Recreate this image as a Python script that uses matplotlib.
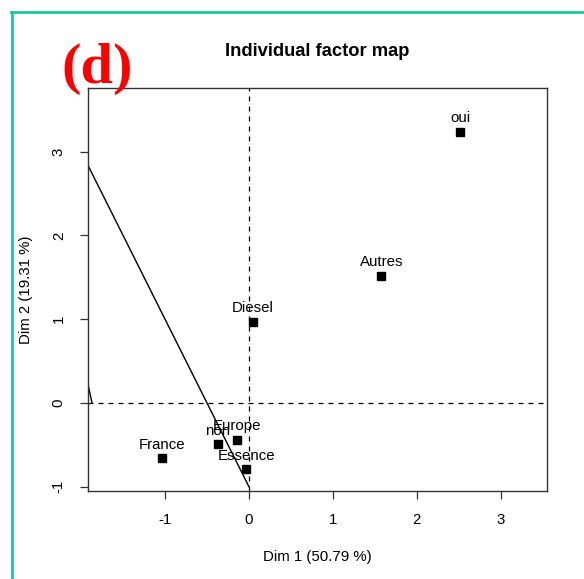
import matplotlib
matplotlib.use("Agg")
import matplotlib.pyplot as plt
from matplotlib.lines import Line2D

plt.rcParams['font.family'] = ['Liberation Sans', 'DejaVu Sans']

labels = ["oui", "Autres", "Diesel", "France", "non", "Europe", "Essence"]
dim1 = [2.52, 1.58, 0.05, -1.03, -0.37, -0.14, -0.03]
dim2 = [3.24, 1.52, 0.97, -0.66, -0.49, -0.44, -0.79]

line1_x = [-2.0, 0.0]
line1_y = [3.0, -1.0]
line2_x = [-1.92, -1.87]
line2_y = [0.23, 0.0]

xticks = [-1, 0, 1, 2, 3]
yticks = [-1, 0, 1, 2, 3]

fig = plt.figure(figsize=(5.84, 5.79), dpi=100)
ax = fig.add_axes([88/584, 1-491/579, (547.3-88)/584, (491-88)/579])
ax.set_xlim(-1.918, 3.557)
ax.set_ylim(-1.052, 3.760)

ax.axhline(0, color='black', lw=0.9, ls=(0, (4, 4)))
ax.axvline(0, color='black', lw=0.9, ls=(0, (4, 4)))
ax.plot(line1_x, line1_y, color='black', lw=1.0)
ax.plot(line2_x, line2_y, color='black', lw=1.0)

ax.plot(dim1, dim2, 's', color='black', markersize=6.3, ls='none')
for lab, x, y in zip(labels, dim1, dim2):
    ax.annotate(lab, (x, y), xytext=(0, 4.5), textcoords='offset points',
                ha='center', va='bottom', fontsize=10.8)

ax.set_xticks(xticks)
ax.set_yticks(yticks)
ax.set_xticklabels([str(t) for t in xticks])
ax.set_yticklabels([str(t) for t in yticks], rotation=90, va='center')
ax.tick_params(axis='both', length=6, width=0.9, labelsize=10.8, pad=10, colors='#333333', labelcolor='black')
for s in ax.spines.values():
    s.set_linewidth(1.0)
    s.set_color('#333333')

fig.text(317/584, 1-557/579, "Dim 1 (50.79 %)", ha='center', va='center', fontsize=10.8)
fig.text(26/584, 1-290/579, "Dim 2 (19.31 %)", ha='center', va='center', fontsize=10.8, rotation=90)
fig.text(317/584, 1-52/579, "Individual factor map", ha='center', va='center', fontsize=13.2, fontweight='bold')
fig.text(97/584, 1-83/579, "(d)", ha='center', va='baseline', fontsize=42, fontweight='bold',
         color='red', family=['Liberation Serif', 'DejaVu Serif'])

teal = '#1cc99b'
fig.add_artist(Line2D([12/584, 12/584], [0, 1-12/579], color=teal, lw=2, transform=fig.transFigure))
fig.add_artist(Line2D([11/584, 1], [1-12/579, 1-12/579], color=teal, lw=2, transform=fig.transFigure))

fig.savefig("out.png", dpi=100)
